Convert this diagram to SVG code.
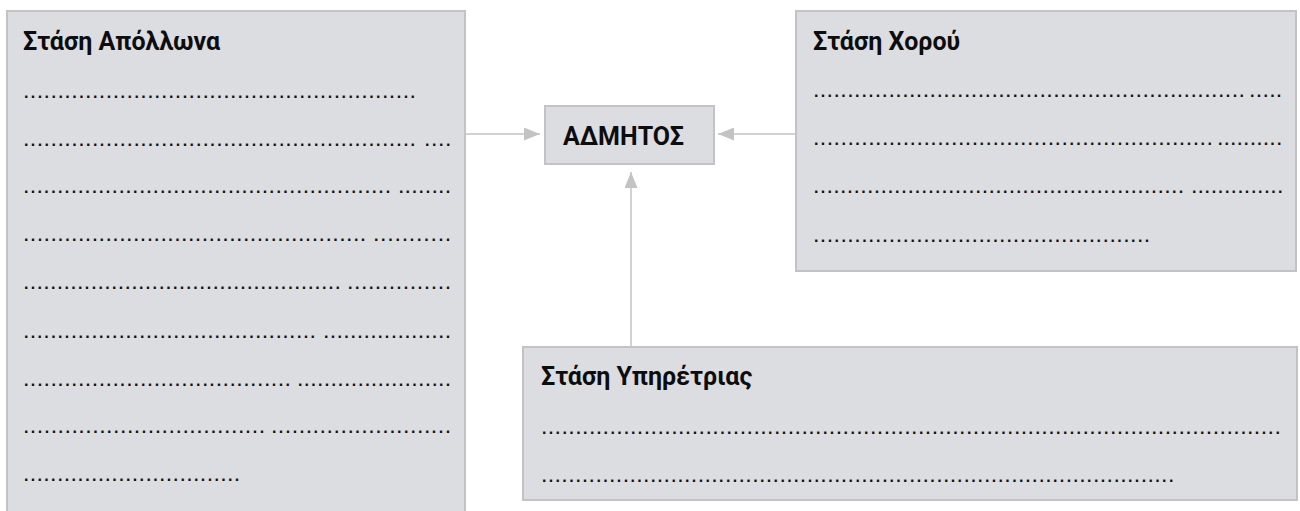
<svg xmlns="http://www.w3.org/2000/svg" width="1300" height="511" viewBox="0 0 1300 511">
<style>
.box{fill:#dcdde0;stroke:#c3c3c5;stroke-width:2}
.title{font-family:Roboto,"Noto Sans","DejaVu Sans",sans-serif;font-weight:700;font-size:25px;fill:#0d0d0d}
.center{font-family:Roboto,"Noto Sans","DejaVu Sans",sans-serif;font-weight:700;font-size:25px;fill:#0d0d0d}
.dots{font-family:"Liberation Sans",Arial,sans-serif;font-weight:700;font-size:16px;fill:#111}
.conn{stroke:#c3c3c5;stroke-width:1.5;fill:none}
</style>
<defs>
<marker id="arr" viewBox="0 0 16 13" refX="16" refY="6.5" markerWidth="16" markerHeight="13" markerUnits="userSpaceOnUse" orient="auto">
<path d="M0,0 L16,6.5 L0,13 Z" fill="#c3c3c5"/>
</marker>
</defs>
<rect width="1300" height="511" fill="#ffffff"/>
<g id="connectors">
<line class="conn" x1="466" y1="134" x2="540" y2="134" marker-end="url(#arr)"/>
<line class="conn" x1="797" y1="134" x2="718" y2="134" marker-end="url(#arr)"/>
<line class="conn" x1="631" y1="346" x2="631" y2="172" marker-end="url(#arr)"/>
</g>
<g id="node-apollon">
<rect class="box" x="7" y="11" width="458" height="520"/>
<text class="title" x="23" y="50">Στάση Απόλλωνα</text>
<text class="dots" x="23.9" y="98" letter-spacing="2.46">.........................................................</text>
<text class="dots" x="23.9" y="146" letter-spacing="2.46">.........................................................</text>
<text class="dots" x="424.9" y="146" letter-spacing="2.55">....</text>
<text class="dots" x="23.9" y="193" letter-spacing="2.38">......................................................</text>
<text class="dots" x="398.9" y="193" letter-spacing="2.26">........</text>
<text class="dots" x="23.9" y="241" letter-spacing="2.43">..................................................</text>
<text class="dots" x="373.9" y="241" letter-spacing="2.75">...........</text>
<text class="dots" x="23.9" y="289" letter-spacing="2.33">...............................................</text>
<text class="dots" x="347.9" y="289" letter-spacing="2.55">...............</text>
<text class="dots" x="23.9" y="338" letter-spacing="2.38">...........................................</text>
<text class="dots" x="323.9" y="338" letter-spacing="2.33">...................</text>
<text class="dots" x="23.9" y="386" letter-spacing="2.44">.......................................</text>
<text class="dots" x="297.9" y="386" letter-spacing="2.28">.......................</text>
<text class="dots" x="23.9" y="433" letter-spacing="2.49">...................................</text>
<text class="dots" x="271.9" y="433" letter-spacing="2.51">..........................</text>
<text class="dots" x="23.9" y="481" letter-spacing="2.36">................................</text>
</g>
<g id="node-admitos">
<rect class="box" x="545" y="106" width="169" height="58"/>
<text class="center" x="563" y="145">ΑΔΜΗΤΟΣ</text>
</g>
<g id="node-xorou">
<rect class="box" x="796" y="11" width="500" height="260"/>
<text class="title" x="813" y="50">Στάση Χορού</text>
<text class="dots" x="813.9" y="97" letter-spacing="2.42">...............................................................</text>
<text class="dots" x="1249.9" y="97" letter-spacing="2.3">.....</text>
<text class="dots" x="813.9" y="145" letter-spacing="2.46">..........................................................</text>
<text class="dots" x="1217.9" y="145" letter-spacing="2.11">..........</text>
<text class="dots" x="813.9" y="193" letter-spacing="2.31">.......................................................</text>
<text class="dots" x="1191.9" y="193" letter-spacing="2.17">..............</text>
<text class="dots" x="813.9" y="242" letter-spacing="2.45">.................................................</text>
</g>
<g id="node-ypiretrias">
<rect class="box" x="523" y="347" width="774" height="153"/>
<text class="title" x="541" y="385">Στάση Υπηρέτριας</text>
<text class="dots" x="541.9" y="434" letter-spacing="2.41">............................................................................................................</text>
<text class="dots" x="541.9" y="482" letter-spacing="2.37">.............................................................................................</text>
</g>
</svg>
